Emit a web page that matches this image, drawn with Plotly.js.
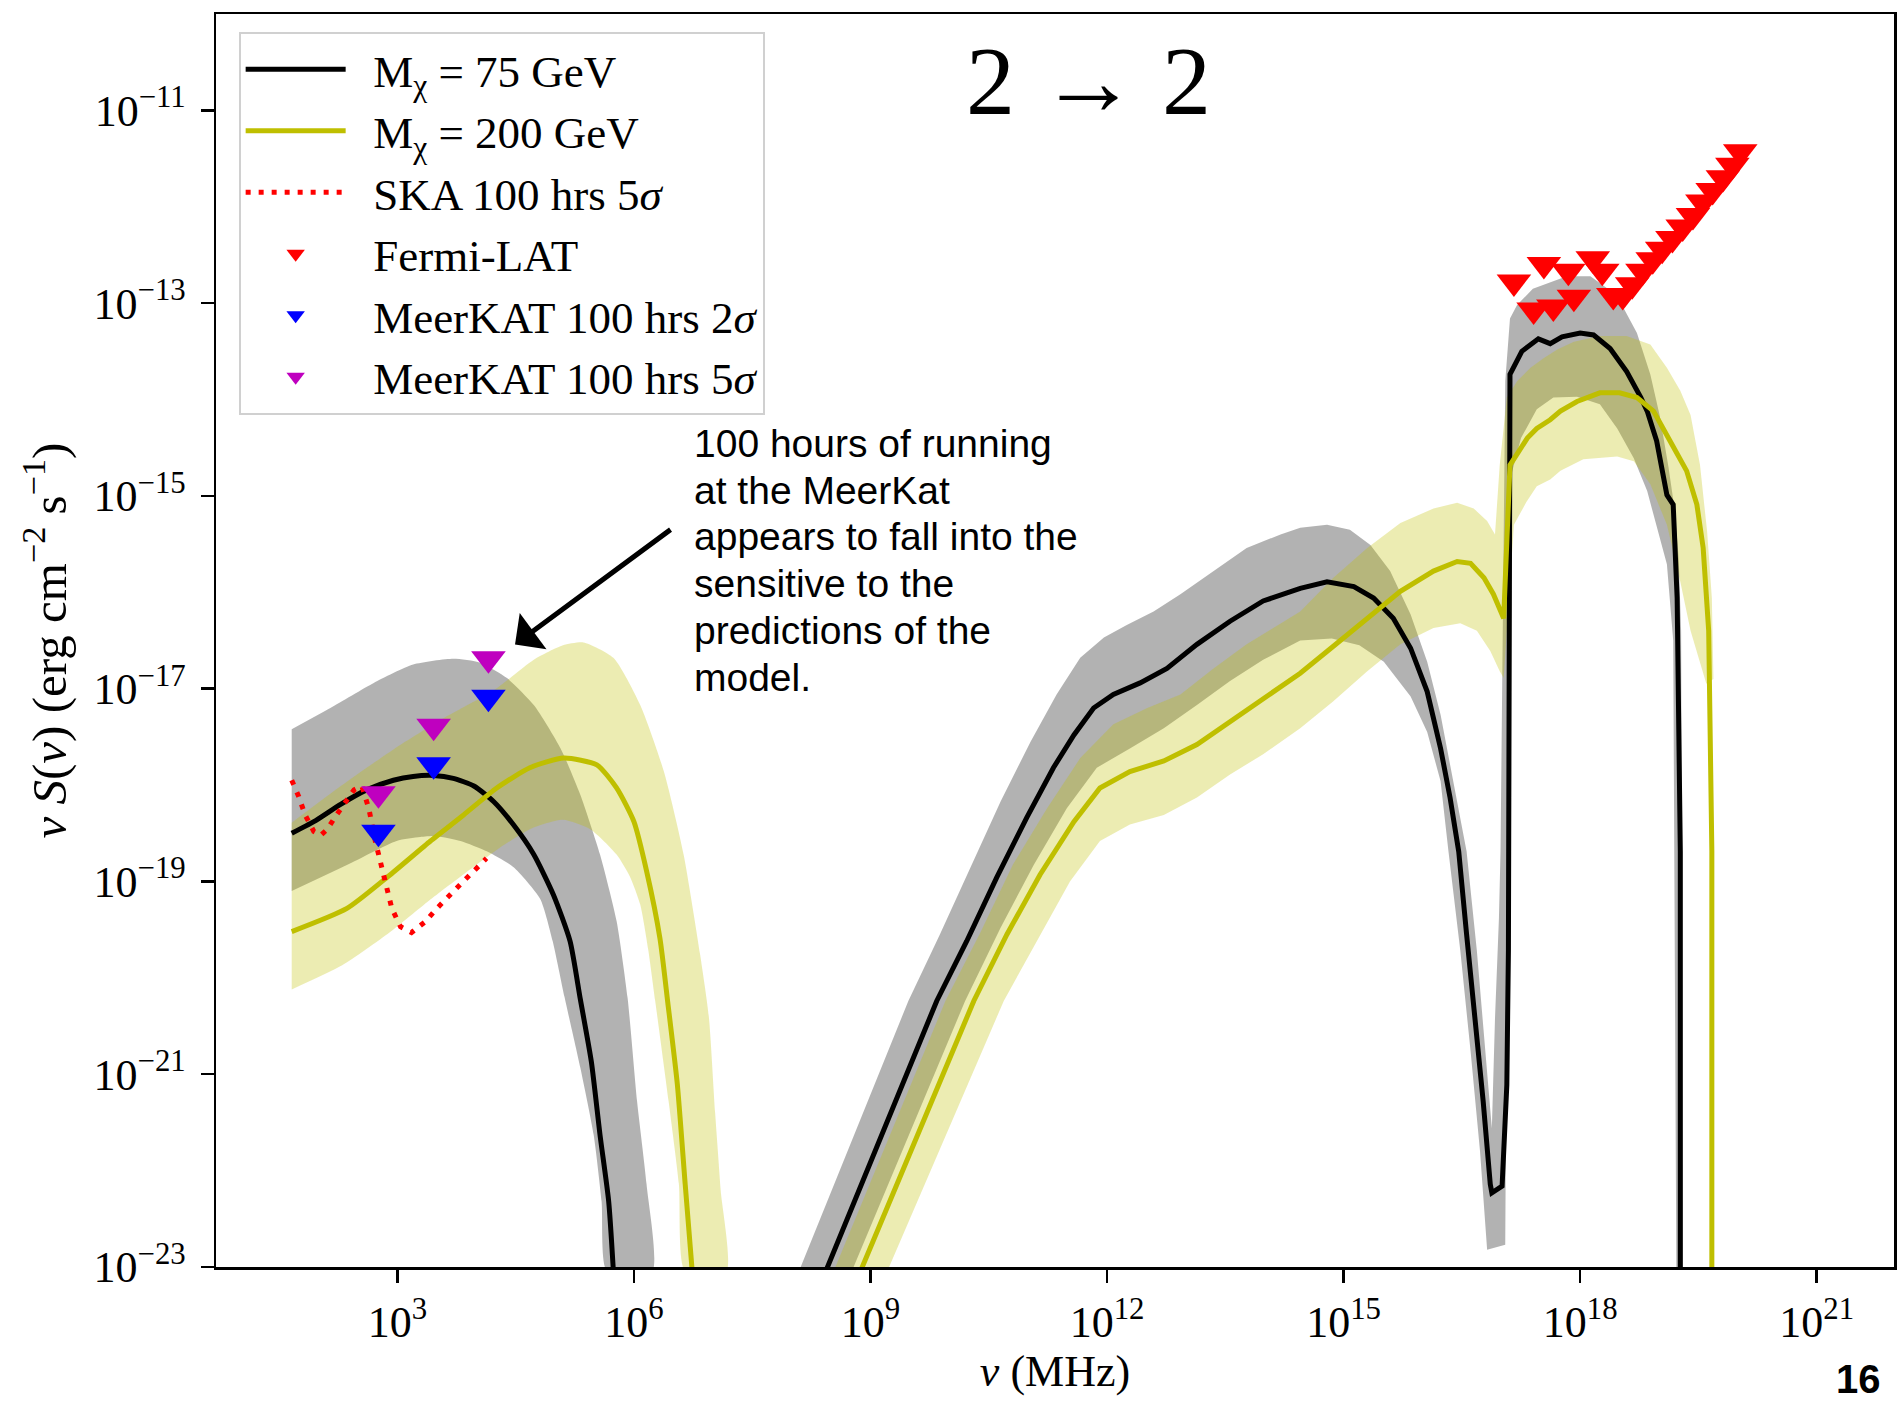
<!DOCTYPE html>
<html><head><meta charset="utf-8">
<script src="https://cdn.plot.ly/plotly-3.0.1.min.js"></script>
<style>html,body{margin:0;padding:0;background:#fff;}#chart{width:1899px;height:1406px;}</style>
</head><body><div id="chart"></div>
<script>
// All values are log10: x = log10(nu / MHz), y = log10(nu S(nu) / erg cm^-2 s^-1)
// ---- M_chi = 75 GeV (black) ----
const blackLowX = [1.66, 1.94, 2.28, 2.61, 2.95, 3.20, 3.46, 3.71, 3.97, 4.22, 4.47, 4.73, 4.98, 5.19, 5.32, 5.46, 5.57, 5.68, 5.74];
const blackLowY = [-18.50, -18.38, -18.20, -18.05, -17.95, -17.91, -17.90, -17.93, -18.01, -18.17, -18.41, -18.72, -19.14, -19.62, -20.22, -20.87, -21.63, -22.32, -23.05];
const blackIcX = [8.43, 9.84, 10.22, 10.60, 10.98, 11.32, 11.58, 11.83, 12.08, 12.42, 12.76, 13.14, 13.56, 13.98, 14.45, 14.79, 15.13, 15.38, 15.63, 15.85, 16.06, 16.23, 16.35, 16.46, 16.56, 16.67, 16.77, 16.86, 16.88, 17.01, 17.07, 17.09, 17.11, 17.26, 17.47, 17.62, 17.77, 18.00, 18.17, 18.38, 18.59, 18.77, 18.85, 18.97, 19.06, 19.10, 19.18, 19.23, 19.27, 19.27];
const blackIcY = [-23.05, -20.24, -19.62, -18.96, -18.34, -17.82, -17.48, -17.20, -17.06, -16.94, -16.79, -16.54, -16.30, -16.09, -15.96, -15.89, -15.94, -16.06, -16.27, -16.58, -17.03, -17.62, -18.13, -18.69, -19.55, -20.42, -21.28, -22.14, -22.23, -22.16, -21.11, -19.72, -13.74, -13.50, -13.37, -13.42, -13.35, -13.31, -13.33, -13.47, -13.71, -13.98, -14.12, -14.43, -14.78, -14.99, -15.09, -16.06, -18.69, -23.05];
// 75 GeV uncertainty band
const grayLowUpX = [1.66, 2.15, 2.70, 3.20, 3.71, 4.05, 4.39, 4.73, 5.07, 5.32, 5.57, 5.78, 5.92, 6.04, 6.16, 6.23];
const grayLowUpY = [-17.42, -17.20, -16.94, -16.75, -16.69, -16.73, -16.89, -17.17, -17.62, -18.10, -18.72, -19.41, -20.21, -21.28, -22.14, -23.05];
const grayLowLoX = [1.66, 2.36, 2.99, 3.29, 3.50, 3.80, 4.14, 4.47, 4.81, 4.97, 5.12, 5.32, 5.49, 5.59, 5.66];
const grayLowLoY = [-19.10, -18.83, -18.58, -18.54, -18.53, -18.58, -18.69, -18.85, -19.18, -19.62, -20.20, -20.93, -21.63, -22.32, -23.05];
const grayIcUpX = [8.09, 9.48, 9.88, 10.26, 10.65, 11.03, 11.36, 11.66, 11.96, 12.25, 12.59, 12.93, 13.35, 13.77, 14.20, 14.45, 14.79, 15.08, 15.34, 15.59, 15.85, 16.06, 16.23, 16.39, 16.56, 16.69, 16.80, 16.88, 16.92, 16.97, 16.99, 17.03, 17.05, 17.11, 17.20, 17.40, 17.66, 17.83, 18.13, 18.35, 18.55, 18.72, 18.89, 19.01, 19.12, 19.20, 19.25, 19.28, 19.29, 19.30];
const grayIcUpY = [-23.05, -20.24, -19.55, -18.86, -18.17, -17.55, -17.06, -16.68, -16.47, -16.34, -16.20, -16.02, -15.78, -15.54, -15.40, -15.33, -15.30, -15.35, -15.51, -15.78, -16.23, -16.72, -17.27, -17.96, -18.69, -19.72, -20.76, -21.56, -20.42, -19.38, -18.69, -15.71, -13.81, -13.16, -13.02, -12.85, -12.77, -12.72, -12.72, -12.85, -13.05, -13.31, -13.74, -14.17, -14.70, -15.15, -15.65, -16.40, -18.69, -23.05];
const grayIcLoX = [8.76, 10.20, 10.65, 11.07, 11.49, 11.87, 12.29, 12.72, 13.14, 13.56, 13.98, 14.45, 14.85, 15.20, 15.51, 15.85, 16.06, 16.23, 16.33, 16.48, 16.61, 16.73, 16.82, 17.05, 17.08, 17.12, 17.25, 17.45, 17.66, 17.96, 18.25, 18.47, 18.68, 18.85, 19.01, 19.10, 19.18, 19.22];
const grayIcLoY = [-23.05, -20.24, -19.48, -18.83, -18.24, -17.82, -17.62, -17.41, -17.17, -16.92, -16.70, -16.50, -16.48, -16.55, -16.72, -17.08, -17.45, -17.96, -18.69, -19.72, -20.76, -21.80, -22.82, -22.77, -18.69, -14.80, -14.40, -14.10, -13.98, -13.97, -14.05, -14.30, -14.61, -14.95, -15.44, -15.71, -16.50, -23.05];
// ---- M_chi = 200 GeV (yellow) ----
const yelLowX = [1.66, 2.36, 2.91, 3.42, 3.84, 4.26, 4.68, 5.11, 5.53, 5.78, 6.00, 6.16, 6.33, 6.43, 6.55, 6.65, 6.74];
const yelLowY = [-19.52, -19.28, -18.93, -18.58, -18.31, -18.03, -17.82, -17.72, -17.79, -18.03, -18.38, -18.89, -19.59, -20.26, -21.10, -22.14, -23.05];
const yelIcX = [8.87, 10.31, 10.73, 11.15, 11.58, 11.91, 12.29, 12.72, 13.14, 13.56, 13.98, 14.45, 14.87, 15.30, 15.72, 16.14, 16.44, 16.61, 16.78, 16.90, 17.03, 17.11, 17.33, 17.45, 17.62, 17.75, 17.96, 18.25, 18.50, 18.72, 18.93, 19.14, 19.35, 19.48, 19.56, 19.63, 19.67, 19.67];
const yelIcY = [-23.05, -20.24, -19.55, -18.93, -18.38, -18.03, -17.86, -17.75, -17.58, -17.34, -17.10, -16.84, -16.56, -16.27, -15.99, -15.78, -15.68, -15.70, -15.85, -16.02, -16.27, -14.68, -14.40, -14.30, -14.21, -14.12, -14.02, -13.93, -13.93, -13.98, -14.12, -14.43, -14.74, -15.09, -15.54, -16.40, -18.69, -23.05];
// 200 GeV uncertainty band
const yelLowUpX = [1.66, 2.30, 2.95, 3.60, 4.22, 4.73, 5.10, 5.36, 5.74, 6.08, 6.38, 6.63, 6.84, 6.95, 7.03, 7.10, 7.17];
const yelLowUpY = [-18.39, -18.00, -17.63, -17.30, -17.02, -16.70, -16.55, -16.52, -16.68, -17.17, -17.86, -18.72, -19.76, -20.40, -21.40, -22.20, -23.05];
const yelLowLoX = [1.66, 2.30, 2.90, 3.40, 3.85, 4.30, 4.70, 5.10, 5.45, 5.78, 5.95, 6.08, 6.18, 6.27, 6.44, 6.57, 6.65];
const yelLowLoY = [-20.12, -19.87, -19.53, -19.20, -18.92, -18.65, -18.45, -18.36, -18.46, -18.72, -18.95, -19.24, -19.70, -20.24, -21.28, -22.14, -23.05];
const yelIcUpX = [8.53, 9.95, 10.40, 10.81, 11.24, 11.66, 12.08, 12.51, 12.93, 13.35, 13.77, 14.45, 14.87, 15.30, 15.72, 16.14, 16.44, 16.65, 16.82, 16.92, 16.98, 17.07, 17.20, 17.37, 17.54, 17.71, 17.92, 18.25, 18.59, 18.89, 19.10, 19.27, 19.40, 19.52, 19.61, 19.67, 19.69];
const yelIcUpY = [-23.05, -20.24, -19.52, -18.82, -18.24, -17.72, -17.37, -17.20, -17.06, -16.79, -16.54, -16.20, -15.85, -15.54, -15.28, -15.13, -15.07, -15.13, -15.26, -15.40, -14.68, -13.98, -13.81, -13.67, -13.57, -13.48, -13.40, -13.34, -13.34, -13.43, -13.67, -13.91, -14.16, -14.68, -15.37, -16.06, -16.90];
const yelIcLoX = [9.21, 10.69, 11.11, 11.53, 11.91, 12.29, 12.72, 13.14, 13.56, 13.98, 14.45, 14.87, 15.30, 15.72, 16.14, 16.48, 16.69, 16.86, 16.98, 17.03, 17.16, 17.32, 17.45, 17.62, 17.75, 18.04, 18.47, 18.68, 18.89, 19.10, 19.27, 19.40, 19.60];
const yelIcLoY = [-23.05, -20.24, -19.62, -19.00, -18.58, -18.41, -18.31, -18.13, -17.89, -17.68, -17.41, -17.13, -16.82, -16.54, -16.37, -16.32, -16.40, -16.61, -16.82, -16.89, -15.30, -15.06, -14.90, -14.83, -14.74, -14.62, -14.59, -14.64, -14.88, -15.30, -15.89, -16.40, -16.95];
// ---- SKA 100 hrs 5 sigma ----
const skaX = [1.66, 1.75, 1.83, 1.94, 2.03, 2.11, 2.22, 2.34, 2.45, 2.55, 2.64, 2.72, 2.82, 2.93, 3.04, 3.18, 3.35, 3.50, 3.80, 4.13];
const skaY = [-17.95, -18.12, -18.31, -18.48, -18.52, -18.46, -18.32, -18.17, -18.05, -18.01, -18.25, -18.58, -18.93, -19.28, -19.47, -19.53, -19.42, -19.28, -19.03, -18.76];
// ---- Fermi-LAT upper limits ----
const fermiX = [17.16, 17.41, 17.54, 17.66, 17.85, 17.92, 18.16, 18.28, 18.42, 18.54, 18.66, 18.79, 18.92, 19.04, 19.17, 19.30, 19.43, 19.55, 19.68, 19.81, 19.93, 20.03];
const fermiY = [-12.78, -13.07, -12.60, -13.04, -12.67, -12.94, -12.54, -12.67, -12.92, -12.92, -12.81, -12.67, -12.55, -12.44, -12.33, -12.21, -12.09, -11.95, -11.83, -11.70, -11.57, -11.43];
// ---- MeerKAT 100 hrs ----
const meerX = [2.76, 3.46, 4.155];
const meer2Y = [-18.49, -17.79, -17.09];
const meer5Y = [-18.09, -17.39, -16.69];
// ---- ticks and texts ----
const xTickExp = [3, 6, 9, 12, 15, 18, 21];
const yTickExp = [-23, -21, -19, -17, -15, -13, -11];
const noteLines = ['100 hours of running', 'at the MeerKat', 'appears to fall into the', 'sensitive to the', 'predictions of the', 'model.'];

const p10 = a => a.map(v => (v === null ? null : Math.pow(10, v)));
const poly = (ux, uy, lx, ly) => ({x: p10(ux.concat(lx.slice().reverse())), y: p10(uy.concat(ly.slice().reverse()))});
const supTxt = e => '10<sup>' + (e < 0 ? '\u2212' + (-e) : e) + '</sup>';
const PAD = '\u00a0\u00a0';

const GRAY = 'rgba(0,0,0,0.3)';
const YEL = 'rgba(191,191,0,0.3)';
function band(p, color, shape) {
  return {x: p.x, y: p.y, mode: 'lines', fill: 'toself', fillcolor: color,
          line: {width: 0, color: color, shape: shape, smoothing: 0.6}, hoverinfo: 'skip', showlegend: false};
}
const traces = [
  band(poly(grayLowUpX, grayLowUpY, grayLowLoX, grayLowLoY), GRAY, 'spline'),
  band(poly(grayIcUpX, grayIcUpY, grayIcLoX, grayIcLoY), GRAY, 'linear'),
  band(poly(yelLowUpX, yelLowUpY, yelLowLoX, yelLowLoY), YEL, 'spline'),
  band(poly(yelIcUpX, yelIcUpY, yelIcLoX, yelIcLoY), YEL, 'linear'),
  {x: p10(blackLowX), y: p10(blackLowY), mode: 'lines', legendgroup: 'a',
   name: PAD + 'M<sub>\u03c7</sub> = 75 GeV', line: {color: '#000000', width: 5, shape: 'spline', smoothing: 0.6}},
  {x: p10(blackIcX), y: p10(blackIcY), mode: 'lines', legendgroup: 'a', showlegend: false,
   name: 'M<sub>\u03c7</sub> = 75 GeV', line: {color: '#000000', width: 5}},
  {x: p10(yelLowX), y: p10(yelLowY), mode: 'lines', legendgroup: 'b',
   name: PAD + 'M<sub>\u03c7</sub> = 200 GeV', line: {color: '#bfbf00', width: 5, shape: 'spline', smoothing: 0.6}},
  {x: p10(yelIcX), y: p10(yelIcY), mode: 'lines', legendgroup: 'b', showlegend: false,
   name: 'M<sub>\u03c7</sub> = 200 GeV', line: {color: '#bfbf00', width: 5}},
  {x: p10(skaX), y: p10(skaY), mode: 'lines', name: PAD + 'SKA 100 hrs 5<i>\u03c3</i>',
   line: {color: '#ff0000', width: 5, dash: '5px,8px'}, legendgroup: 'c'},
  {x: p10(fermiX), y: p10(fermiY), mode: 'markers', name: PAD + 'Fermi-LAT',
   marker: {symbol: 'triangle-down', size: 30, color: '#ff0000'}, legendgroup: 'd'},
  {x: p10(meerX), y: p10(meer2Y), mode: 'markers', name: PAD + 'MeerKAT 100 hrs 2<i>\u03c3</i>',
   marker: {symbol: 'triangle-down', size: 30, color: '#0000ff'}, legendgroup: 'e'},
  {x: p10(meerX), y: p10(meer5Y), mode: 'markers', name: PAD + 'MeerKAT 100 hrs 5<i>\u03c3</i>',
   marker: {symbol: 'triangle-down', size: 30, color: '#bf00bf'}, legendgroup: 'f'}
];

const SERIF = 'Liberation Serif, Times New Roman, serif';
const SANS = 'Liberation Sans, Arial, sans-serif';
const axCommon = {
  type: 'log', tickmode: 'array', ticks: 'outside', ticklen: 13, tickwidth: 2.5, tickcolor: '#000',
  showline: true, linewidth: 2.5, linecolor: '#000', mirror: true, showgrid: false, zeroline: false,
  tickfont: {family: SERIF, size: 44, color: '#000'}
};
const annotations = [
  {xref: 'paper', yref: 'paper', x: 0.52, y: 0.9465, xanchor: 'center', yanchor: 'middle',
   text: '2 \u2192 2', showarrow: false, font: {family: SERIF, size: 98, color: '#000'}},
  {xref: 'paper', yref: 'paper', x: 0.1782, y: 0.4968, text: '', showarrow: true,
   axref: 'pixel', ayref: 'pixel', ax: 157, ay: -116, arrowhead: 1, arrowsize: 1.5,
   arrowwidth: 5, arrowcolor: '#000', standoff: 0, startstandoff: 0},
  {xref: 'paper', yref: 'paper', x: 0.979, y: -0.1085, xanchor: 'center', yanchor: 'bottom',
   text: '<b>16</b>', showarrow: false, font: {family: SANS, size: 40, color: '#000'}}
];
noteLines.forEach((t, i) => {
  const py = 443.3 + i * 46.75;
  annotations.push({xref: 'paper', yref: 'paper', x: 0.2838, y: 1 - (py - 14) / 1253,
    xanchor: 'left', yanchor: 'middle', align: 'left', text: t, showarrow: false,
    font: {family: SANS, size: 39, color: '#000'}});
});
const layout = {
  width: 1899, height: 1406,
  margin: {l: 216, r: 5, t: 14, b: 139, pad: 0},
  paper_bgcolor: '#ffffff', plot_bgcolor: '#ffffff',
  font: {family: SERIF, color: '#000'},
  xaxis: Object.assign({}, axCommon, {
    range: [0.70, 21.98],
    tickvals: p10(xTickExp), ticktext: xTickExp.map(supTxt),
    ticklabelstandoff: 2,
    title: {text: '<i>\u03bd</i> (MHz)', font: {family: SERIF, size: 44, color: '#000'}, standoff: 8}
  }),
  yaxis: Object.assign({}, axCommon, {
    range: [-23, -10],
    tickvals: p10(yTickExp), ticktext: yTickExp.map(supTxt),
    ticklabelstandoff: 6,
    title: {text: '<i>\u03bd S</i>(<i>\u03bd</i>) (erg cm<sup>\u22122</sup> s<sup>\u22121</sup>)',
            font: {family: SERIF, size: 49, color: '#000'}, standoff: 12}
  }),
  showlegend: true,
  legend: {
    x: 0.0135, y: 0.986, xanchor: 'left', yanchor: 'top',
    bgcolor: '#ffffff', bordercolor: '#d0d0d0', borderwidth: 2,
    font: {family: SERIF, size: 45, color: '#000'},
    itemwidth: 100, traceorder: 'normal'
  },
  annotations: annotations
};
Plotly.newPlot('chart', traces, layout, {displayModeBar: false, staticPlot: true});
</script></body></html>
